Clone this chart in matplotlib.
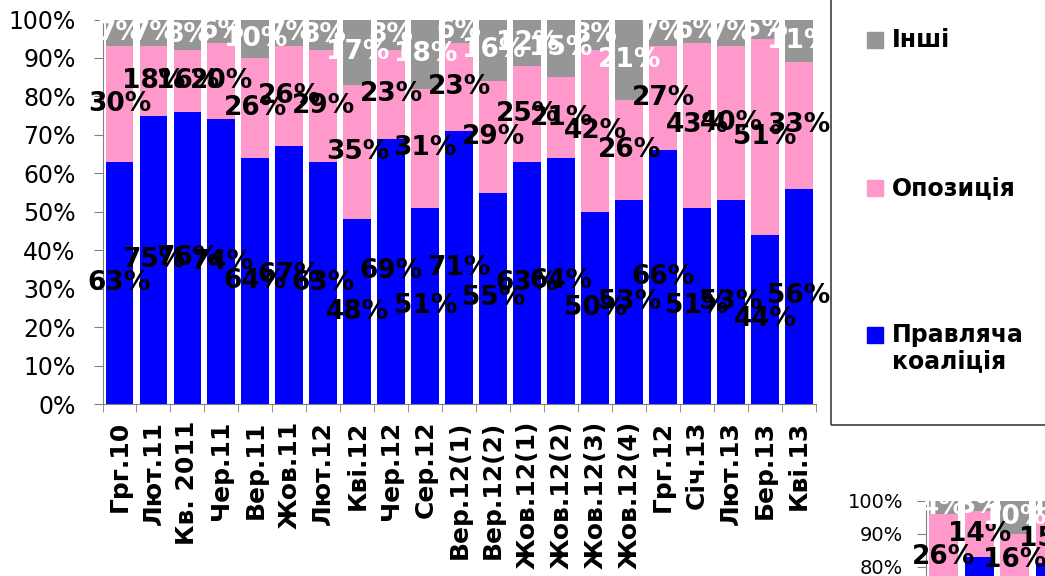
import numpy as np
import matplotlib
matplotlib.use("Agg")
from matplotlib import pyplot as plt
from matplotlib.patches import Rectangle

plt.rcParams['font.family'] = ['DejaVu Sans']

# main chart data (percent)
categories = ["Грг.10", "Лют.11", "Кв. 2011", "Чер.11", "Вер.11", "Жов.11", "Лют.12",
              "Кві.12", "Чер.12", "Сер.12", "Вер.12(1)", "Вер.12(2)", "Жов.12(1)",
              "Жов.12(2)", "Жов.12(3)", "Жов.12(4)", "Грг.12", "Січ.13", "Лют.13",
              "Бер.13", "Кві.13"]
coalition = [63, 75, 76, 74, 64, 67, 63, 48, 69, 51, 71, 55, 63, 64, 50, 53, 66, 51, 53, 44, 56]
opposition = [30, 18, 16, 20, 26, 26, 29, 35, 23, 31, 23, 29, 25, 21, 42, 26, 27, 43, 40, 51, 33]
others = [7, 7, 8, 6, 10, 7, 8, 17, 8, 18, 6, 16, 12, 15, 8, 21, 7, 6, 7, 5, 11]

series_names = ["Правляча\nкоаліція", "Опозиція", "Інші"]
colors = ["#0000FF", "#FF99CC", "#969696"]
label_colors = ["black", "black", "white"]

# second (cut-off) chart in the corner
coalition2 = [70, 83, 74, 81]
opposition2 = [26, 14, 16, 15]
others2 = [4, 3, 10, 4]

W, H = 1045, 576
fig = plt.figure(figsize=(W / 100, H / 100), dpi=100)


def stacked(ax, series, fs):
    x = np.arange(len(series[0]))
    bottom = np.zeros(len(x))
    for vals, c, lc in zip(series, colors, label_colors):
        vals = np.array(vals, dtype=float)
        ax.bar(x, vals, 0.82, bottom=bottom, color=c, zorder=2)
        for xi, b, v in zip(x, bottom, vals):
            ax.text(xi, b + v / 2, "%d%%" % v, ha='center', va='center',
                    fontsize=fs, fontweight='bold', color=lc, zorder=5, clip_on=False)
        bottom += vals
    return x


def style(ax, tick_fs, pad):
    for s in ['top', 'right']:
        ax.spines[s].set_visible(False)
    for s in ['left', 'bottom']:
        ax.spines[s].set_color('#808080')
    ax.set_ylim(0, 100)
    ax.set_yticks(np.arange(0, 101, 10))
    ax.set_yticklabels(["%d%%" % v for v in range(0, 101, 10)], fontsize=tick_fs)
    ax.tick_params(axis='y', direction='out', length=6.5, color='#808080', pad=pad)


# main axes
ax = fig.add_axes([102.5 / W, 1 - 404 / H, (816 - 102.5) / W, (404 - 19.5) / H])
x = stacked(ax, [coalition, opposition, others], 19)
style(ax, 17, 13)
ax.set_xlim(-0.5, len(categories) - 0.5)
ax.set_xticks(x)
ax.set_xticklabels(categories, rotation=90, fontsize=18, fontweight='bold')
ax.set_xticks(np.arange(-0.5, len(categories), 1), minor=True)
ax.tick_params(axis='x', which='major', length=0, pad=12)
ax.tick_params(axis='x', which='minor', length=6, color='#808080')

# legend box
fig.patches.append(Rectangle((831 / W, 1 - 425 / H), 0.3, 0.9,
                             transform=fig.transFigure, fill=False,
                             edgecolor='#404040', lw=1.2))
legend_y = [327, 180, 32]
for name, c, yy in zip(series_names, colors, legend_y):
    fig.patches.append(Rectangle((867 / W, 1 - (yy + 16) / H), 16 / W, 16 / H,
                                 transform=fig.transFigure, color=c))
    fig.text(892 / W, 1 - (yy - 4) / H, name, ha='left', va='top', fontsize=17,
             fontweight='bold', linespacing=1.1)

# partial second chart
ax2 = fig.add_axes([926 / W, 1 - 830.7 / H, 213 / W, 330 / H])
stacked(ax2, [coalition2, opposition2, others2], 19)
style(ax2, 14, 10)
ax2.set_xlim(-0.5, 5.5)
ax2.set_xticks([])

fig.savefig("out.png", dpi=100)
